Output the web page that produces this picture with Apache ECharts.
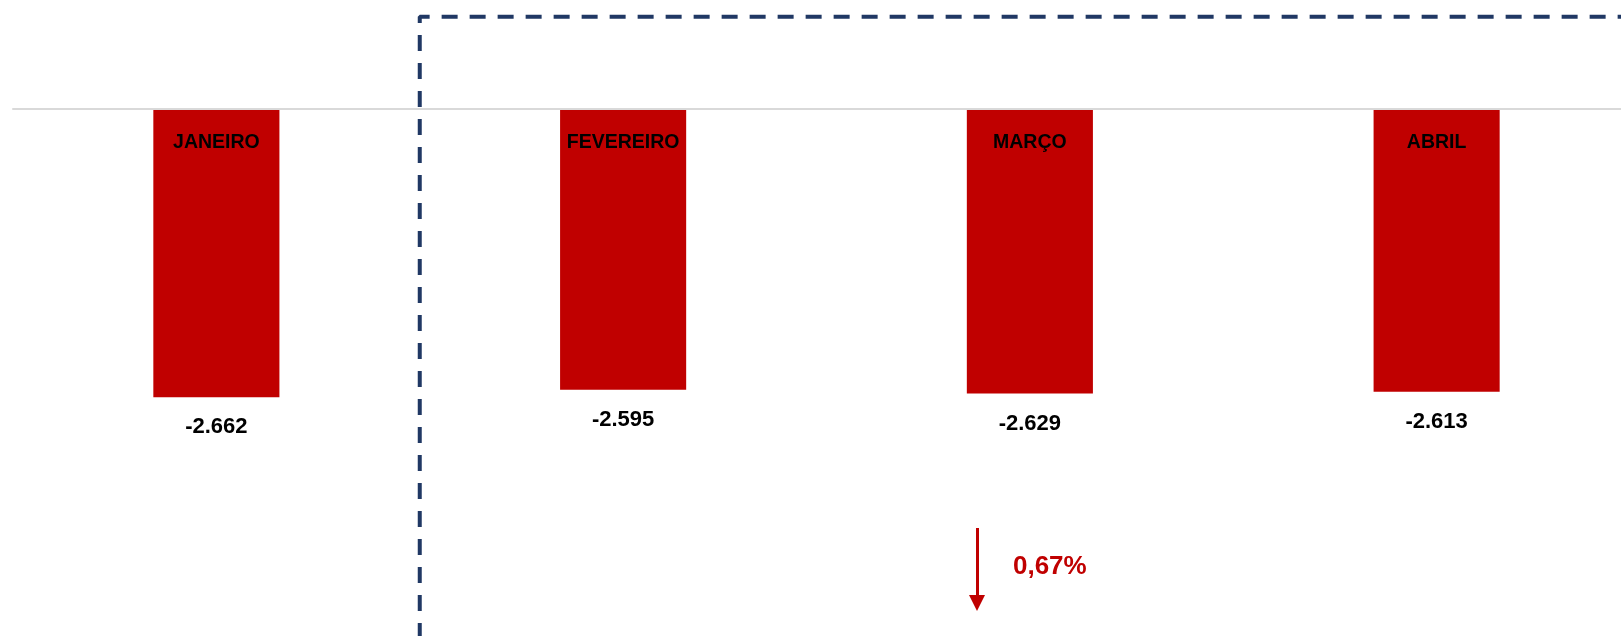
<!DOCTYPE html>
<html>
<head>
<meta charset="utf-8">
<script src="https://cdn.jsdelivr.net/npm/echarts@6/dist/echarts.min.js"></script>
<style>
    html, body { margin: 0; padding: 0; background: #fff; }
    #chart { width: 1621px; height: 642px; }
</style>
</head>
<body>
<div id="chart"></div>
<script>
// chart values
const categories = ['JANEIRO', 'FEVEREIRO', 'MARÇO', 'ABRIL'];
const values = [-2662, -2595, -2629, -2613];
const variationLabel = '0,67%';

const fmt = v => '-' + (Math.abs(v) / 1000).toFixed(3);

const chart = echarts.init(document.getElementById('chart'));

const yMin = -4920;
const yMax = 1000;
const gridH = 642;
// pixel distance from grid top to the zero line
const zeroOffset = gridH * yMax / (yMax - yMin);

const option = {
    animation: false,
    grid: { left: 13, right: -19, top: 0, bottom: 0, outerBoundsMode: 'none', containLabel: false },
    xAxis: [
        {
            type: 'category',
            data: categories,
            position: 'top',
            offset: -zeroOffset,
            z: 10,
            axisLine: { onZero: false, lineStyle: { color: '#d9d9d9', width: 2 } },
            axisTick: { inside: true, length: 7, lineStyle: { color: '#d9d9d9', width: 2 } },
            axisLabel: {
                inside: true,
                margin: 24,
                color: '#000',
                fontWeight: 'bold',
                fontSize: 19.5,
                fontFamily: 'Liberation Sans'
            }
        },
        // hidden helper axis for the annotations
        { type: 'value', min: 0, max: 4, show: false }
    ],
    yAxis: {
        type: 'value',
        min: yMin,
        max: yMax,
        show: false,
        splitLine: { show: false }
    },
    series: [
        {
            type: 'bar',
            data: values,
            barWidth: '31%',
            itemStyle: { color: '#c00000' },
            label: {
                show: true,
                position: 'bottom',
                distance: 19,
                color: '#000',
                fontWeight: 'bold',
                fontSize: 22,
                fontFamily: 'Liberation Sans',
                formatter: p => fmt(p.value)
            }
        },
        {
            // dashed box around FEVEREIRO - ABRIL
            type: 'line',
            xAxisIndex: 1,
            symbol: 'none',
            clip: false,
            data: [[1, -4864], [1, 845], [4, 845]],
            lineStyle: { color: '#203864', width: 4, type: [16, 12], dashOffset: 3 },
            markLine: {
                silent: true,
                symbol: ['none', 'triangle'],
                symbolSize: [16, 16],
                label: { show: false },
                lineStyle: { color: '#c00000', width: 3, type: 'solid' },
                data: [[{ coord: [2.37, -3869] }, { coord: [2.37, -4560] }]]
            }
        },
        {
            type: 'scatter',
            xAxisIndex: 1,
            symbolSize: 0,
            itemStyle: { opacity: 1 },
            data: [[2.549, -4224]],
            label: {
                show: true,
                position: 'inside',
                color: '#c00000',
                fontWeight: 'bold',
                fontSize: 26,
                fontFamily: 'Liberation Sans',
                formatter: variationLabel
            }
        }
    ]
};

chart.setOption(option);
</script>
</body>
</html>
